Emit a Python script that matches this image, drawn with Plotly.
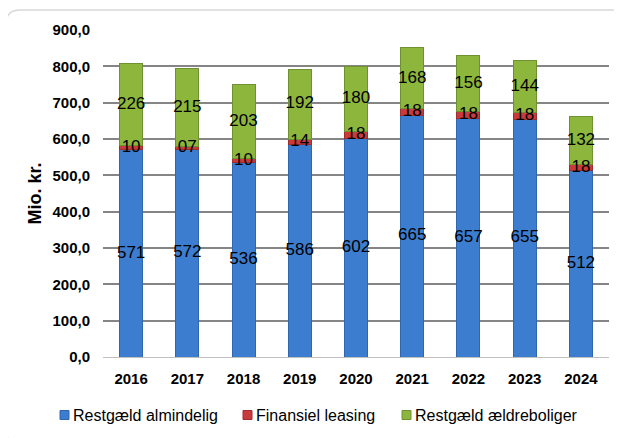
import plotly.graph_objects as go

years = ["2016", "2017", "2018", "2019", "2020", "2021", "2022", "2023", "2024"]
restgaeld_almindelig = [571, 572, 536, 586, 602, 665, 657, 655, 512]
finansiel_leasing = [10, 7, 10, 14, 18, 18, 18, 18, 18]
restgaeld_aeldreboliger = [226, 215, 203, 192, 180, 168, 156, 144, 132]
y_ticks = [0, 100, 200, 300, 400, 500, 600, 700, 800, 900]

FONT = "Liberation Sans, Arial, sans-serif"

series = [
    ("Restgæld almindelig", restgaeld_almindelig, "#3c7dd0", "#2f66ad"),
    ("Finansiel leasing", finansiel_leasing, "#c93a3c", "#a02d2f"),
    ("Restgæld ældreboliger", restgaeld_aeldreboliger, "#8db63d", "#6f9130"),
]

# page offset (body margin) -> figure coordinates
OFF = 8
W, H = 614, 430
PL, PR, PT, PB = 103, 609, 30, 357  # plot area in page pixels
L, R, T, B = PL - OFF, W - (PR - OFF), PT - OFF, H - (PB - OFF)
pw, ph = PR - PL, PB - PT

def px(x):
    return (x - PL) / pw

def py(y):
    return (PB - y) / ph

fig = go.Figure()
for name, vals, col, edge in series:
    fig.add_trace(go.Bar(
        x=years, y=vals, name=name, showlegend=False,
        marker=dict(color=col, line=dict(color=edge, width=1)),
    ))

# data labels on top of all bars, centred in each segment
cum = [0] * len(years)
for name, vals, col, edge in series:
    centers = [c + v / 2 for c, v in zip(cum, vals)]
    fig.add_trace(go.Scatter(
        x=years, y=centers, mode="text", showlegend=False,
        text=[f"{v:02d}" for v in vals], textposition="middle center",
        textfont=dict(family=FONT, size=17, color="black"),
        cliponaxis=False, hoverinfo="skip",
    ))
    cum = [c + v for c, v in zip(cum, vals)]

# rounded border
x0, x1, y0, y1, r = 6, 628, 10, 444, 14
path = (f"M {px(x0+r)},{py(y0)} L {px(x1-r)},{py(y0)} "
        f"Q {px(x1)},{py(y0)} {px(x1)},{py(y0+r)} "
        f"L {px(x1)},{py(y1-r)} Q {px(x1)},{py(y1)} {px(x1-r)},{py(y1)} "
        f"L {px(x0+r)},{py(y1)} Q {px(x0)},{py(y1)} {px(x0)},{py(y1-r)} "
        f"L {px(x0)},{py(y0+r)} Q {px(x0)},{py(y0)} {px(x0+r)},{py(y0)} Z")
shapes = [dict(type="path", path=path, xref="paper", yref="paper",
               line=dict(color="#d9d9d9", width=1.5), layer="below")]

# custom legend (square marker + text), positioned in page pixels
legend_x = [60, 243, 402]
legend_y = 415
annotations = []
for (name, vals, col, edge), lx in zip(series, legend_x):
    shapes.append(dict(type="rect", xref="paper", yref="paper",
                       x0=px(lx), x1=px(lx + 9), y0=py(legend_y - 4.5), y1=py(legend_y + 4.5),
                       fillcolor=col, line=dict(color=edge, width=1)))
    annotations.append(dict(xref="paper", yref="paper", x=px(lx + 11), y=py(legend_y),
                            xanchor="left", yanchor="middle", showarrow=False,
                            text=name, font=dict(family=FONT, size=16, color="black")))

fig.update_layout(
    width=W, height=H,
    margin=dict(l=L, r=R, t=T, b=B),
    paper_bgcolor="white", plot_bgcolor="white",
    barmode="stack", bargap=0.59,
    separators=",.",
    font=dict(family=FONT, color="black"),
    shapes=shapes, annotations=annotations,
    showlegend=False,
)
fig.update_yaxes(
    range=[0, 900], tickvals=y_ticks, tickformat=".1f",
    showgrid=True, gridcolor="#858585", gridwidth=1.5,
    zeroline=False, showline=False,
    ticklabelstandoff=12,
    tickfont=dict(family=FONT, size=15, color="black", weight="bold"),
    title=dict(text="<b>Mio. kr.</b>", font=dict(family=FONT, size=18, color="black"),
               standoff=6),
    automargin=False,
)
fig.update_xaxes(
    showline=True, linecolor="#c0c0c0", linewidth=1,
    tickfont=dict(family=FONT, size=15, color="black", weight="bold"),
    ticklabelstandoff=8,
    automargin=False,
)
fig.write_html("out.html")
